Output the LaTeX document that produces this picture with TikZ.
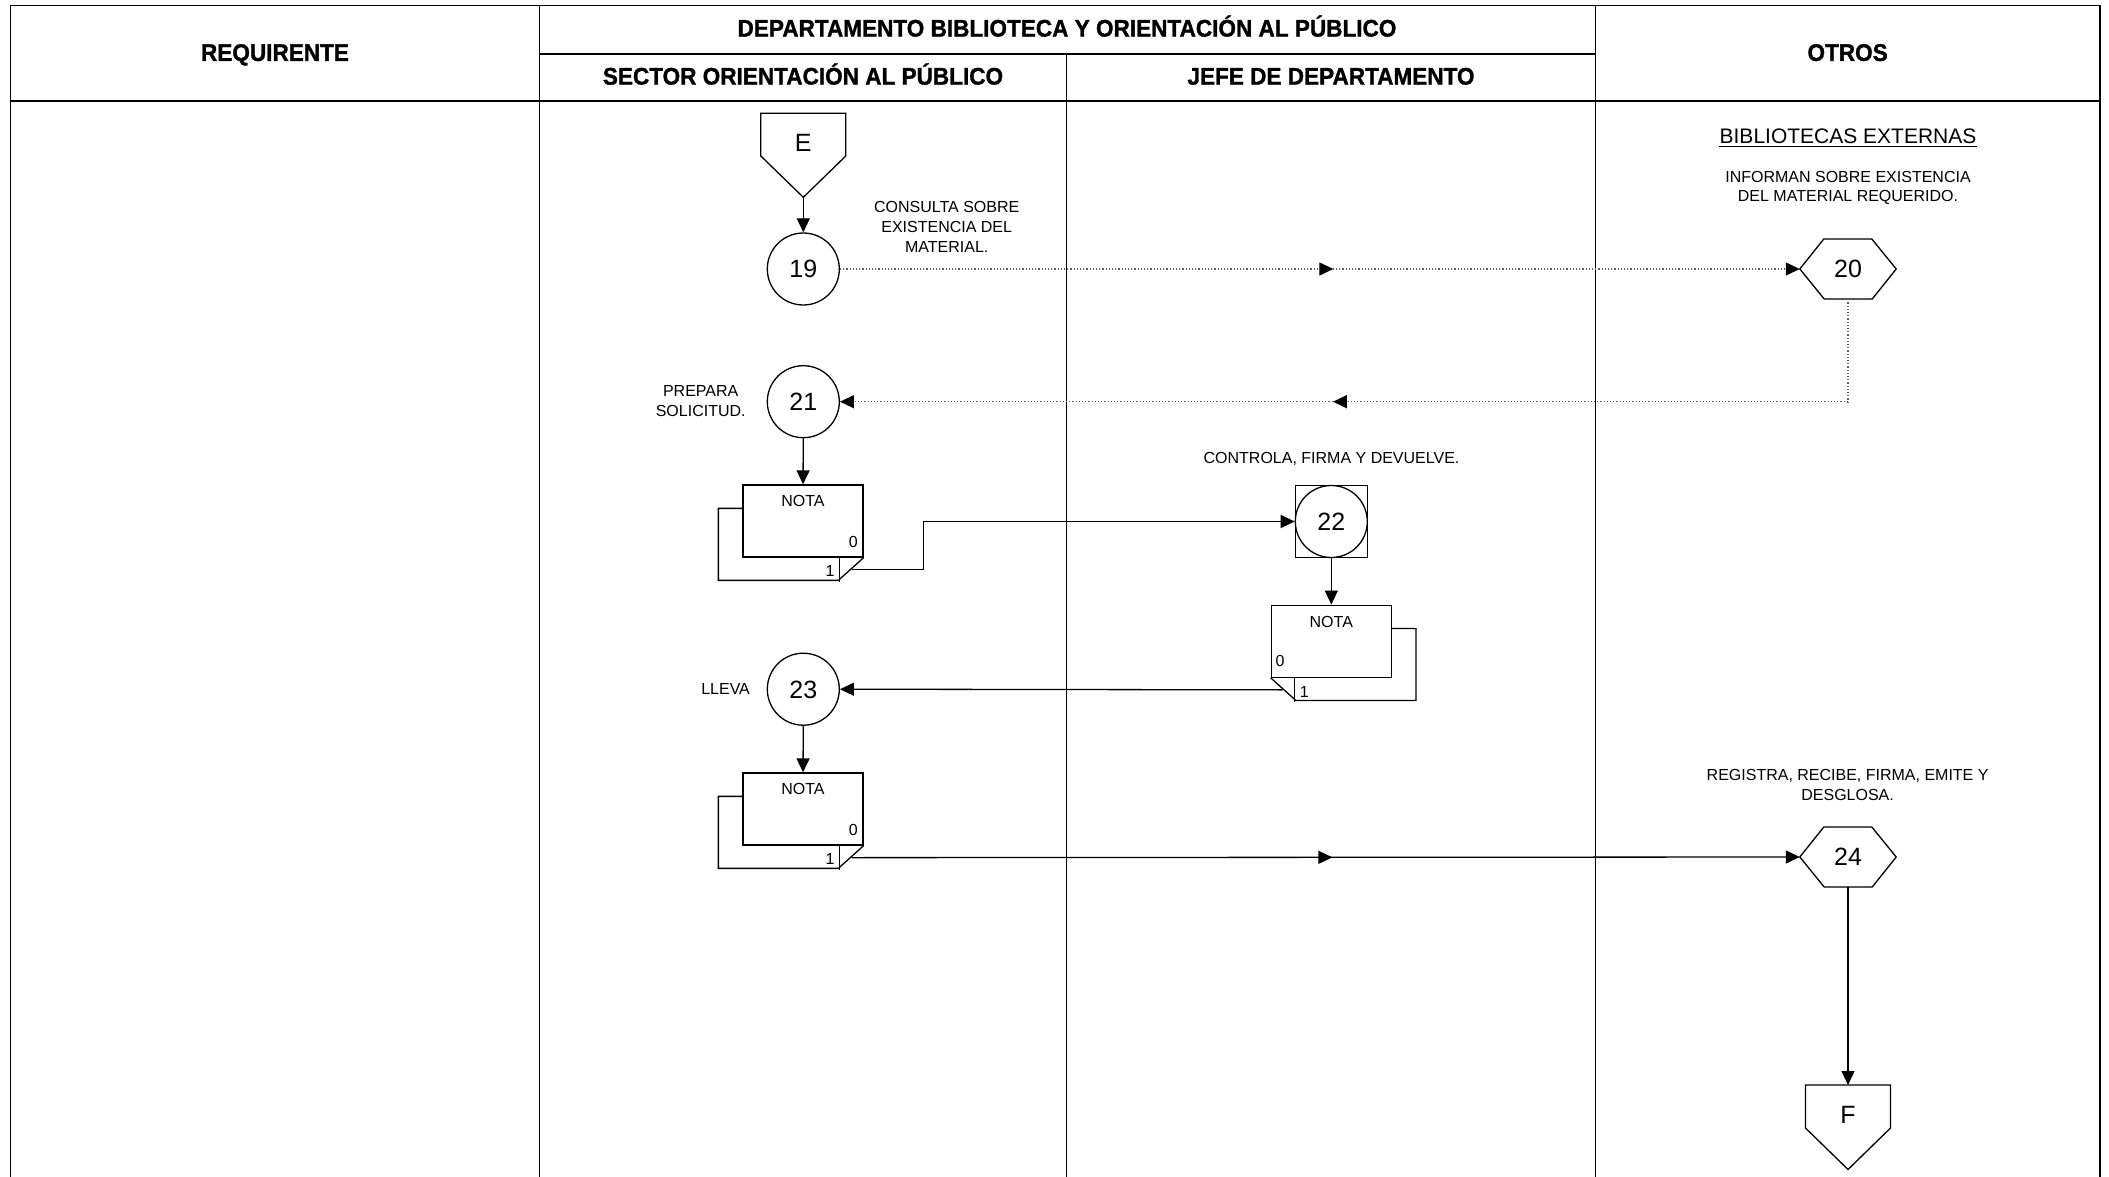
\documentclass[tikz,border=0pt]{standalone}
\usepackage{fontspec}
\setmainfont{Liberation Sans}
\newfontfamily\hdrfont[FakeStretch=0.94,FakeBold=1.2]{Liberation Sans}
\usetikzlibrary{arrows.meta,decorations.markings}
\begin{document}
\begin{tikzpicture}[x=1pt,y=-1pt,
  >={Triangle[length=14pt,width=13pt]},
  frameline/.style={line width=1.4pt,black},
  laneline/.style={line width=1.2pt,black},
  outline/.style={line width=1.3pt,black},
  conn/.style={line width=1.3pt,black},
  dotconn/.style={line width=1.2pt,draw=black!62,dash pattern=on 1.2pt off 2pt},
  midarrow/.style={postaction={decorate},decoration={markings,mark=at position #1 with {\arrow{Triangle[length=14pt,width=13pt,color=black]}}}},
  hdr/.style={font=\hdrfont\bfseries\fontsize{24}{28}\selectfont,text height=17.2pt,text depth=0pt,inner sep=0pt},
  lbl/.style={font=\fontsize{16}{19.7}\selectfont,align=center,inner sep=0pt},
  onelbl/.style={font=\fontsize{16}{19.7}\selectfont,inner sep=0pt,text height=11.5pt,text depth=0pt},
  numtxt/.style={font=\fontsize{25}{30}\selectfont,inner sep=0pt,text height=17.9pt,text depth=0pt},
  circnode/.style={circle,draw,outline,minimum size=72pt,inner sep=0pt,font=\fontsize{25}{30}\selectfont,text height=17.9pt,text depth=0pt},
  hexnode/.style={rectangle,minimum width=96pt,minimum height=60pt,inner sep=0pt,font=\fontsize{25}{30}\selectfont,text height=17.9pt,text depth=0pt},
  docnode/.style={rectangle,draw,outline,fill=white,minimum width=120pt,minimum height=72pt,inner sep=0pt}
]
\fill[white] (0,0) rectangle (2109,1177);
\useasboundingbox (0,0) rectangle (2109,1177);

% frame and lanes
\draw[frameline] (10.7,1177) -- (10.7,5.5) -- (2100,5.5) -- (2100,1177);
\draw[frameline] (10.7,101) -- (2100,101);
\draw[frameline] (539.3,54) -- (1595.2,54);
\draw[laneline] (539.3,5.5) -- (539.3,1177);
\draw[laneline] (1595.2,5.5) -- (1595.2,1177);
\draw[laneline] (1066.6,54) -- (1066.6,1177);

% headers
\node[hdr] (hReq) at (275,52.3) {REQUIRENTE};
\node[hdr] (hDep) at (1067,28) {DEPARTAMENTO BIBLIOTECA Y ORIENTACIÓN AL PÚBLICO};
\node[hdr] (hSec) at (803,76) {SECTOR ORIENTACIÓN AL PÚBLICO};
\node[hdr] (hJefe) at (1331,76) {JEFE DE DEPARTAMENTO};
\node[hdr] (hOtr) at (1847.6,52.3) {OTROS};

% off-page connector E
\node[numtxt] (E) at (803.3,143) {E};
\draw[outline] ([shift={(-42.5,-29.7)}]E.center) -- ([shift={(42.5,-29.7)}]E.center) -- ([shift={(42.5,13)}]E.center) -- ([shift={(0,54.3)}]E.center) -- ([shift={(-42.5,13)}]E.center) -- cycle;
\coordinate (Etip) at ([shift={(0,54.3)}]E.center);

% circles
\node[circnode] (n19) at (803.3,269) {19};
\node[circnode] (n21) at (803.3,401.7) {21};
\node[circnode] (n22) at (1331.3,521.5) {22};
\draw[outline] ([shift={(-36,-36)}]n22.center) rectangle ([shift={(36,36)}]n22.center);
\node[circnode] (n23) at (803.3,689.2) {23};

% hexagons
\node[hexnode] (n20) at (1848,269) {20};
\draw[outline] (n20.west) -- ++(24,-30) -- ++(48,0) -- (n20.east) -- ++(-24,30) -- ++(-48,0) -- cycle;
\node[hexnode] (n24) at (1848,857) {24};
\draw[outline] (n24.west) -- ++(24,-30) -- ++(48,0) -- (n24.east) -- ++(-24,30) -- ++(-48,0) -- cycle;

% documents (type A: copy behind lower-left)
\node[docnode] (d1) at (803,521) {};
\draw[outline] ([shift={(0,24)}]d1.north west) -- ++(-24,0) -- ++(0,72) -- ++(120,0) -- (d1.south east);
\draw[outline] ([shift={(-24,0)}]d1.south east) -- ++(0,24);
\node[onelbl] (d1t) at ([shift={(0,16.7)}]d1.north) {NOTA};
\node[onelbl] (d1a) at ([shift={(-10.3,-16)}]d1.south east) {0};
\node[onelbl] (d1b) at ([shift={(-33.7,13)}]d1.south east) {1};
\coordinate (d1f) at ([shift={(-12,12)}]d1.south east);

\node[docnode] (d3) at (803,809) {};
\draw[outline] ([shift={(0,24)}]d3.north west) -- ++(-24,0) -- ++(0,72) -- ++(120,0) -- (d3.south east);
\draw[outline] ([shift={(-24,0)}]d3.south east) -- ++(0,24);
\node[onelbl] (d3t) at ([shift={(0,16.7)}]d3.north) {NOTA};
\node[onelbl] (d3a) at ([shift={(-10.3,-16)}]d3.south east) {0};
\node[onelbl] (d3b) at ([shift={(-33.7,13)}]d3.south east) {1};
\coordinate (d3f) at ([shift={(-12,12)}]d3.south east);

% document type B: copy behind lower-right
\node[docnode] (d2) at (1331.3,641.2) {};
\draw[outline] ([shift={(0,24)}]d2.north east) -- ++(24,0) -- ++(0,72) -- ++(-120,0) -- (d2.south west);
\draw[outline] ([shift={(24,0)}]d2.south west) -- ++(0,24);
\node[onelbl] (d2t) at ([shift={(0,16.7)}]d2.north) {NOTA};
\node[onelbl] (d2a) at ([shift={(9.4,-17)}]d2.south west) {0};
\node[onelbl] (d2b) at ([shift={(33.7,13.5)}]d2.south west) {1};
\coordinate (d2f) at ([shift={(12,12)}]d2.south west);

% off-page connector F
\node[numtxt] (F) at (1848,1115) {F};
\draw[outline] ([shift={(-42.5,-30)}]F.center) -- ([shift={(42.5,-30)}]F.center) -- ([shift={(42.5,13)}]F.center) -- ([shift={(0,54.5)}]F.center) -- ([shift={(-42.5,13)}]F.center) -- cycle;
\coordinate (Ftop) at ([shift={(0,-30)}]F.center);

% labels
\node[lbl] (tCons) at (946.7,226.8) {CONSULTA SOBRE\\EXISTENCIA DEL\\MATERIAL.};
\node[inner sep=0pt,font=\fontsize{21}{25}\selectfont,text height=15pt,text depth=0pt] (tBib) at (1848,136.2) {BIBLIOTECAS EXTERNAS};
\draw[line width=1.2pt] ([yshift=-2.6pt]tBib.south west) -- ([yshift=-2.6pt]tBib.south east);
\node[lbl] (tInf) at (1848,187.9) {INFORMAN SOBRE EXISTENCIA\\DEL MATERIAL REQUERIDO.};
\node[lbl] (tPrep) at (700.7,400.8) {PREPARA\\SOLICITUD.};
\node[onelbl] (tContr) at (1331.5,457.3) {CONTROLA, FIRMA Y DEVUELVE.};
\node[onelbl] (tLlev) at (725.6,688.6) {LLEVA};
\node[lbl] (tReg) at (1847.6,784.7) {REGISTRA, RECIBE, FIRMA, EMITE Y\\DESGLOSA.};

% connectors
\draw[conn,->] (Etip) -- (n19.north);
\draw[dotconn,midarrow=0.514,-{Triangle[length=14pt,width=13pt,color=black]}] (n19.east) -- (n20.west);
\coordinate (c20) at (n20.south |- n21.east);
\draw[dotconn] (n20.south) -- (c20);
\draw[dotconn,midarrow=0.511,-{Triangle[length=14pt,width=13pt,color=black]}] (c20) -- (n21.east);
\draw[conn,->] (n21.south) -- (d1.north);
\draw[conn,->] (d1f) -- ++(71.7,0) |- (n22.west);
\draw[conn,->] (n22.south) -- (d2.north);
\draw[conn,->] (d2f) -- (n23.east);
\draw[conn,->] (n23.south) -- (d3.north);
\draw[conn,midarrow=0.507,->] (d3f) -- (n24.west);
\draw[conn,->] (n24.south) -- (Ftop);
\end{tikzpicture}
\end{document}
